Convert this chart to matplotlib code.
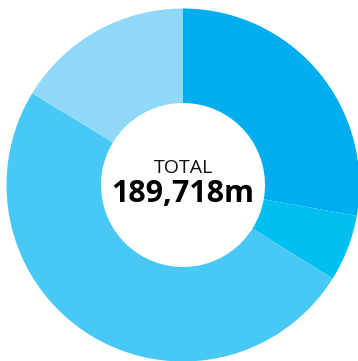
import matplotlib
matplotlib.use("Agg")
import matplotlib.pyplot as plt

# segment values (clockwise from 12 o'clock)
labels = ["A", "B", "C", "D"]
values = [52740, 11573, 94480, 30925]
colors = ["#00AEEF", "#00BFF3", "#48C9F5", "#8FD8F7"]
total_label = "TOTAL"
total_value = "189,718m"

W, H = 358, 361
cx, cy, R = 183, 185, 176.5  # pixel centre and outer radius
r_in = 82

fig = plt.figure(figsize=(W / 100, H / 100), dpi=100)
ax = fig.add_axes([0, 0, 1, 1])
ax.pie(values, colors=colors, startangle=90, counterclock=False,
       radius=1, wedgeprops=dict(width=1 - r_in / R, linewidth=0))
ax.set_xlim(-cx / R, (W - cx) / R)
ax.set_ylim(-(H - cy) / R, cy / R)
ax.set_aspect("auto")
ax.axis("off")

ax.text(0, (cy - 168) / R, total_label, ha="center", va="center",
        fontsize=14, family="Open Sans", color="#111111")
ax.text(0, (cy - 193.5) / R, total_value, ha="center", va="center",
        fontsize=22, family="Open Sans", fontweight="bold", color="#000000")

fig.savefig("out.png", dpi=100)
